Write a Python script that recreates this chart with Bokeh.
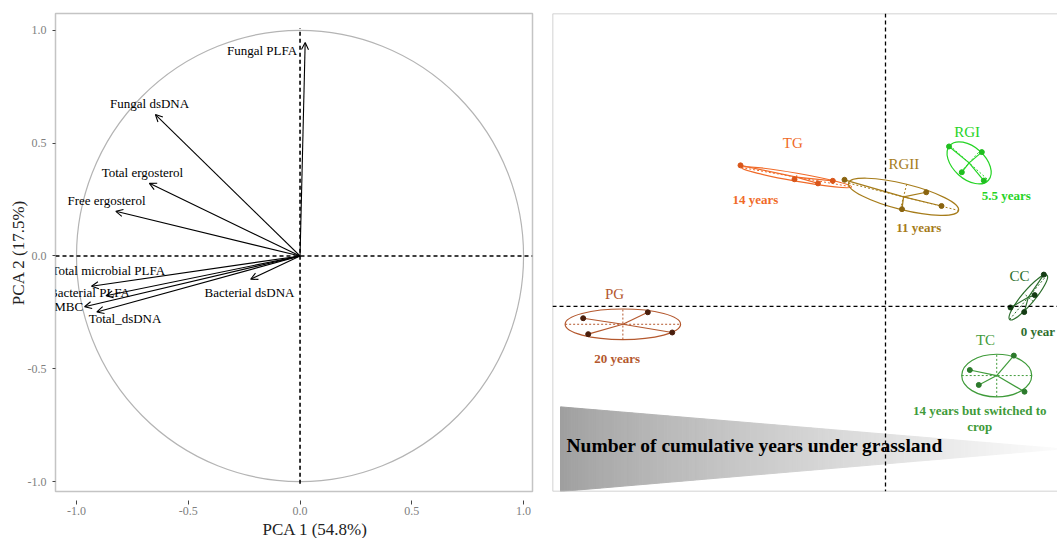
import numpy as np
from bokeh.plotting import figure
from bokeh.models import (Range1d, Span, Arrow, OpenHead, ColumnDataSource,
                          FixedTicker, PrintfTickFormatter, Title)
from bokeh.layouts import row
from bokeh.core.properties import value
from bokeh.embed import file_html
from bokeh.resources import INLINE

SERIF = "Liberation Serif"

# ---------------- left panel: correlation circle (loadings) ----------------
var_names = ["Fungal PLFA", "Fungal dsDNA", "Total ergosterol", "Free ergosterol",
             "Total microbial PLFA", "Bacterial PLFA", "MBC", "Total_dsDNA",
             "Bacterial dsDNA"]
load_pc1 = [0.023, -0.647, -0.674, -0.824, -0.933, -0.868, -0.964, -0.909, -0.221]
load_pc2 = [0.946, 0.627, 0.322, 0.198, -0.134, -0.176, -0.225, -0.248, -0.103]
var_label_x = [-0.170, -0.673, -0.705, -0.866, -0.858, -0.942, -1.035, -0.783, -0.226]
var_label_y = [0.911, 0.677, 0.368, 0.246, -0.065, -0.161, -0.225, -0.278, -0.161]
axis_ticks = [-1.0, -0.5, 0.0, 0.5, 1.0]
pc1_title = "PCA 1 (54.8%)"
pc2_title = "PCA 2 (17.5%)"
vline_extent = [-1.01, 1.01]

# ---------------- right panel: sample scores by treatment ----------------
group_names = ["PG", "TG", "RGII", "RGI", "CC", "TC"]
group_years = ["20 years", "14 years", "11 years", "5.5 years", "0 year",
               "14 years but switched to"]
extra_line = "crop"
pg_pc1 = [-3.779, -2.971, -3.716, -2.666]
pg_pc2 = [-0.150, -0.075, -0.350, -0.329]
tg_pc1 = [-1.8125, -1.1375, -0.844, -0.659]
tg_pc2 = [1.769, 1.595, 1.5425, 1.575]
rgii_pc1 = [-0.5125, 0.509, 0.206, 0.700]
rgii_pc2 = [1.5875, 1.431, 1.219, 1.259]
rgi_pc1 = [0.794, 1.204, 0.954, 1.229]
rgi_pc2 = [2.006, 1.935, 1.6825, 1.5775]
cc_pc1 = [1.979, 1.865, 1.5625, 1.734]
cc_pc2 = [0.3975, 0.140, -0.015, -0.0725]
tc_pc1 = [1.054, 1.604, 1.166, 1.7375]
tc_pc2 = [-0.800, -0.619, -0.9875, -1.0725]
ellipse_width = [1.443, 1.40, 1.4175, 0.65, 0.725, 0.875]
ellipse_height = [0.383, 0.10, 0.325, 0.40, 0.1625, 0.535]
ellipse_angle_deg = [0, -10, -14, -42, 50, 0]
name_x = [-3.3875, -1.159, 0.229, 1.021, 1.675, 1.25]
name_y = [0.15, 2.0525, 1.784, 2.191, 0.379, -0.421]
years_x = [-3.354, -1.625, 0.416, 1.509, 1.904, 1.179]
years_y = [-0.65, 1.3375, 0.984, 1.396, -0.3125, -1.311]
crop_xy = [1.179, -1.5125]
gradient_text = "Number of cumulative years under grassland"
gradient_text_xy = [-3.9875, -1.75]
tri_x = [-4.0625, 2.20]          # base, tip
tri_top = [-1.2625, -1.79]
tri_bottom = [-2.325, -1.79]

# ---------------- styles ----------------
group_colors = ["#b4582e", "#f06a28", "#a67c1a", "#25d425", "#2d6e2d", "#3f9b3a"]
point_colors = ["#4a1e0c", "#d9561a", "#8a6410", "#1fbf1f", "#143c14", "#2c7a2c"]
frame_color = "#c4c4c4"

# ======================= LEFT FIGURE =======================
p1 = figure(width=545, height=538, output_backend="svg", toolbar_location=None,
            x_range=Range1d(-1.094, 1.040), y_range=Range1d(-1.044, 1.075),
            min_border_left=55, min_border_right=13, min_border_top=13,
            min_border_bottom=45)
p1.grid.visible = False
p1.outline_line_color = frame_color
p1.outline_line_width = 1.5
for ax in (p1.xaxis[0], p1.yaxis[0]):
    ax.ticker = FixedTicker(ticks=axis_ticks)
    ax.formatter = PrintfTickFormatter(format="%.1f")
    ax.axis_line_color = None
    ax.minor_tick_line_color = None
    ax.major_tick_line_color = "#444444"
    ax.major_label_text_font = SERIF
    ax.major_label_text_font_size = "12px"
    ax.major_label_text_color = "#808080"
p1.xaxis.major_tick_in = -9
p1.xaxis.major_tick_out = 13
p1.xaxis.major_label_standoff = 2
p1.yaxis.major_tick_in = 0
p1.yaxis.major_tick_out = 3
p1.yaxis.major_label_standoff = 6
p1.yaxis.axis_label = pc2_title
p1.yaxis.axis_label_text_font = SERIF
p1.yaxis.axis_label_text_font_size = "17px"
p1.yaxis.axis_label_text_font_style = "normal"
p1.yaxis.axis_label_text_color = "#222222"
p1.yaxis.axis_label_standoff = -3

p1.add_layout(Title(text=pc1_title, align="left", offset=207, standoff=0,
                    text_font=SERIF, text_font_size="17px",
                    text_font_style="normal", text_color="#222222"), "below")

p1.ellipse(x=[0], y=[0], width=[2], height=[2], fill_color=None,
           line_color="#b4b4b4", line_width=1.2)
p1.add_layout(Span(location=0, dimension="width", line_color="black",
                   line_dash="4 3", line_width=1.3))
p1.segment(x0=[0], y0=[vline_extent[0]], x1=[0], y1=[vline_extent[1]],
           line_color="black", line_dash="4 3", line_width=1.6)

arrow_src = ColumnDataSource(dict(x_end=load_pc1, y_end=load_pc2))
p1.add_layout(Arrow(end=OpenHead(size=7, line_width=1.1, line_color="black"),
                    x_start=0, y_start=0, x_end="x_end", y_end="y_end",
                    source=arrow_src, line_width=1.1, line_color="black"))
p1.text(x=var_label_x, y=var_label_y, text=var_names, text_font=value(SERIF),
        text_font_size="13px", text_align="center", text_baseline="middle",
        text_color="black")

# ======================= RIGHT FIGURE =======================
xr0, xr1 = -4.1625, 2.15
yr0, yr1 = -2.325, 3.675
p2 = figure(width=512, height=538, output_backend="svg", toolbar_location=None,
            x_range=Range1d(xr0, xr1), y_range=Range1d(yr0, yr1),
            x_axis_location=None, y_axis_location=None,
            min_border_left=7, min_border_right=0, min_border_top=13,
            min_border_bottom=45)
p2.grid.visible = False
p2.outline_line_color = None
for loc, dim in ((xr0, "height"), (yr0, "width"), (yr1, "width")):
    p2.add_layout(Span(location=loc, dimension=dim, line_color=frame_color,
                       line_width=1.5))

# gradient triangle built from vertical strips
N = 140
xs = np.linspace(tri_x[0], tri_x[1], N + 1)
tops = np.interp(xs, tri_x, tri_top)
bots = np.interp(xs, tri_x, tri_bottom)
pxs, pys, cols = [], [], []
for i in range(N):
    pxs.append([xs[i], xs[i + 1], xs[i + 1], xs[i]])
    pys.append([tops[i], tops[i + 1], bots[i + 1], bots[i]])
    t = (i + 0.5) / N
    g = int(round(158 + (252 - 158) * t ** 0.8))
    cols.append("#%02x%02x%02x" % (g, g, g))
p2.patches(xs=pxs, ys=pys, fill_color=cols, line_color=cols, line_width=1)

p2.add_layout(Span(location=0, dimension="width", line_color="black",
                   line_dash="4 3", line_width=1.3))
p2.add_layout(Span(location=0, dimension="height", line_color="black",
                   line_dash="4 3", line_width=1.3))

p2.text(x=[gradient_text_xy[0]], y=[gradient_text_xy[1]], text=[gradient_text],
        text_font=value(SERIF), text_font_size="19.5px", text_font_style="bold",
        text_align="left", text_baseline="middle", text_color="black")

group_pc1 = [pg_pc1, tg_pc1, rgii_pc1, rgi_pc1, cc_pc1, tc_pc1]
group_pc2 = [pg_pc2, tg_pc2, rgii_pc2, rgi_pc2, cc_pc2, tc_pc2]
for k in range(len(group_names)):
    gx = np.array(group_pc1[k]); gy = np.array(group_pc2[k])
    cx, cy = gx.mean(), gy.mean()
    col = group_colors[k]
    th = np.deg2rad(ellipse_angle_deg[k])
    a = ellipse_width[k] / 2; b = ellipse_height[k] / 2
    p2.ellipse(x=[cx], y=[cy], width=[ellipse_width[k]], height=[ellipse_height[k]],
               angle=[th], fill_color=None, line_color=col, line_width=1.2)
    ux, uy = a * np.cos(th), a * np.sin(th)
    vx, vy = -b * np.sin(th), b * np.cos(th)
    p2.segment(x0=[cx - ux, cx - vx], y0=[cy - uy, cy - vy],
               x1=[cx + ux, cx + vx], y1=[cy + uy, cy + vy],
               line_color=col, line_dash="2 2", line_width=1)
    p2.segment(x0=[cx] * len(gx), y0=[cy] * len(gy), x1=list(gx), y1=list(gy),
               line_color=col, line_width=1.2)
    p2.scatter(x=list(gx), y=list(gy), size=5, marker="circle",
               fill_color=point_colors[k], line_color=point_colors[k])

p2.text(x=name_x, y=name_y, text=group_names, text_font=value(SERIF),
        text_font_size="15px", text_align="center", text_baseline="middle",
        text_color=group_colors)
p2.text(x=years_x, y=years_y, text=group_years, text_font=value(SERIF),
        text_font_size="13px", text_font_style="bold", text_align="center",
        text_baseline="middle", text_color=group_colors)
p2.text(x=[crop_xy[0]], y=[crop_xy[1]], text=[extra_line], text_font=value(SERIF),
        text_font_size="13px", text_font_style="bold", text_align="center",
        text_baseline="middle", text_color=group_colors[5])

layout = row(p1, p2)
open("out.html", "w").write(file_html(layout, INLINE))
